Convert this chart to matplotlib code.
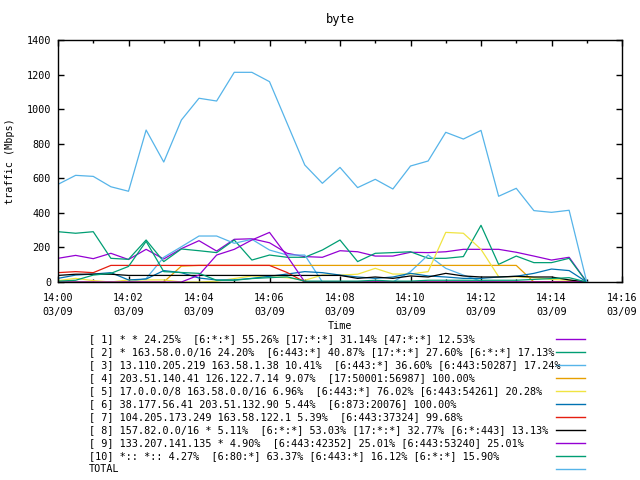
import matplotlib
matplotlib.use("Agg")
from matplotlib import pyplot as plt
import matplotlib.dates as mdates
from matplotlib.lines import Line2D
import pandas as pd

plt.rcParams['font.family'] = 'DejaVu Sans Mono'
plt.rcParams['font.size'] = 7.3

times = pd.date_range("2000-03-09 14:00", "2000-03-09 14:15", freq="30s")

s1 = [137, 154, 135, 166, 130, 189, 133, 193, 239, 179, 247, 250, 227, 166, 147, 143,
      181, 175, 150, 150, 172, 170, 175, 189, 189, 189, 172, 150, 127, 143, 0]
s2 = [291, 282, 291, 137, 131, 243, 118, 191, 181, 170, 243, 127, 156, 143, 143, 185,
      243, 118, 166, 170, 175, 137, 137, 147, 328, 102, 150, 112, 112, 137, 0]
s3 = [0, 0, 0, 0, 0, 20, 143, 204, 266, 266, 224, 247, 185, 156, 156, 0,
      0, 0, 0, 0, 60, 156, 79, 40, 5, 0, 0, 0, 0, 0, 0]
s4 = [0, 0, 0, 0, 0, 0, 0, 92, 96, 96, 96, 96, 96, 96, 96, 96,
      96, 96, 96, 96, 96, 96, 96, 96, 96, 96, 96, 0, 0, 0, 0]
s5 = [8, 21, 8, 0, 12, 12, 12, 0, 0, 5, 20, 35, 30, 25, 10, 40,
      40, 45, 79, 46, 46, 60, 287, 282, 189, 31, 30, 25, 15, 10, 0]
s6 = [21, 40, 46, 54, 12, 17, 66, 54, 23, 12, 12, 21, 33, 46, 60, 54,
      40, 29, 21, 29, 50, 35, 29, 21, 21, 29, 33, 50, 75, 66, 0]
s7 = [54, 60, 54, 96, 96, 96, 96, 96, 96, 96, 96, 96, 96, 55, 0, 0,
      0, 0, 0, 0, 0, 0, 0, 0, 0, 0, 0, 0, 0, 0, 0]
s8 = [38, 45, 45, 45, 38, 38, 38, 38, 38, 38, 38, 38, 38, 38, 38, 38,
      38, 21, 29, 21, 35, 29, 50, 35, 29, 29, 33, 29, 29, 12, 0]
s9 = [0, 0, 0, 0, 0, 0, 0, 0, 40, 156, 189, 243, 287, 150, 0, 0,
      0, 0, 0, 0, 0, 0, 0, 0, 0, 0, 0, 0, 0, 0, 0]
s10 = [5, 10, 40, 50, 90, 235, 60, 55, 50, 10, 10, 20, 25, 30, 5, 5,
       5, 5, 10, 5, 5, 10, 10, 10, 10, 10, 10, 15, 20, 25, 0]
total = [565, 617, 611, 551, 525, 879, 694, 937, 1063, 1047, 1213, 1213, 1159, 918, 677, 571,
         663, 546, 594, 538, 671, 700, 866, 827, 877, 496, 542, 413, 403, 415, 0]

labels = [
    "[ 1] * * 24.25%  [6:*:*] 55.26% [17:*:*] 31.14% [47:*:*] 12.53%",
    "[ 2] * 163.58.0.0/16 24.20%  [6:443:*] 40.87% [17:*:*] 27.60% [6:*:*] 17.13%",
    "[ 3] 13.110.205.219 163.58.1.38 10.41%  [6:443:*] 36.60% [6:443:50287] 17.24%",
    "[ 4] 203.51.140.41 126.122.7.14 9.07%  [17:50001:56987] 100.00%",
    "[ 5] 17.0.0.0/8 163.58.0.0/16 6.96%  [6:443:*] 76.02% [6:443:54261] 20.28%",
    "[ 6] 38.177.56.41 203.51.132.90 5.44%  [6:873:20076] 100.00%",
    "[ 7] 104.205.173.249 163.58.122.1 5.39%  [6:443:37324] 99.68%",
    "[ 8] 157.82.0.0/16 * 5.11%  [6:*:*] 53.03% [17:*:*] 32.77% [6:*:443] 13.13%",
    "[ 9] 133.207.141.135 * 4.90%  [6:443:42352] 25.01% [6:443:53240] 25.01%",
    "[10] *:: *:: 4.27%  [6:80:*] 63.37% [6:443:*] 16.12% [6:*:*] 15.90%",
    "TOTAL",
]
colors = ["#9400D3", "#009E73", "#56B4E9", "#E69F00", "#F0E442",
          "#0072B2", "#E51E10", "#000000", "#9400D3", "#009E73", "#56B4E9"]
series = [s1, s2, s3, s4, s5, s6, s7, s8, s9, s10, total]

fig = plt.figure(figsize=(6.4, 4.8), dpi=100)
ax = fig.add_axes([58/640, 1-282/480, 564/640, 242/480])

for s, c in zip(series, colors):
    ax.plot(times, s, color=c, lw=0.9)

ax.set_xlim(pd.Timestamp("2000-03-09 14:00"), pd.Timestamp("2000-03-09 14:16"))
ax.set_ylim(0, 1400)
ax.set_yticks(range(0, 1401, 200))
ax.xaxis.set_major_locator(mdates.MinuteLocator(byminute=range(0, 60, 2)))
ax.xaxis.set_minor_locator(mdates.MinuteLocator())
ax.xaxis.set_major_formatter(mdates.DateFormatter("%H:%M\n%m/%d"))
ax.tick_params(which="both", direction="in", top=True, right=True, width=1)
ax.tick_params(which="major", length=4)
ax.tick_params(axis="x", which="major", pad=8)
ax.tick_params(axis="y", which="major", pad=5)
ax.tick_params(which="minor", length=2.5)
for sp in ax.spines.values():
    sp.set_linewidth(1)

ax.set_title("byte", pad=12)
ax.set_ylabel("traffic (Mbps)", labelpad=8)
ax.set_xlabel("Time", labelpad=3)

fig.canvas.draw()
for t in ax.get_xticklabels():
    t.set_linespacing(1.45)

for i, (lab, c) in enumerate(zip(labels, colors)):
    y = 1 - (339 + 13*i)/480
    fig.text(89/640, y, lab, ha="left", va="center")
    fig.add_artist(Line2D([556/640, 585/640], [1 - (339 + 13*i)/480]*2, color=c, lw=1))

fig.savefig("out.png", dpi=100)
